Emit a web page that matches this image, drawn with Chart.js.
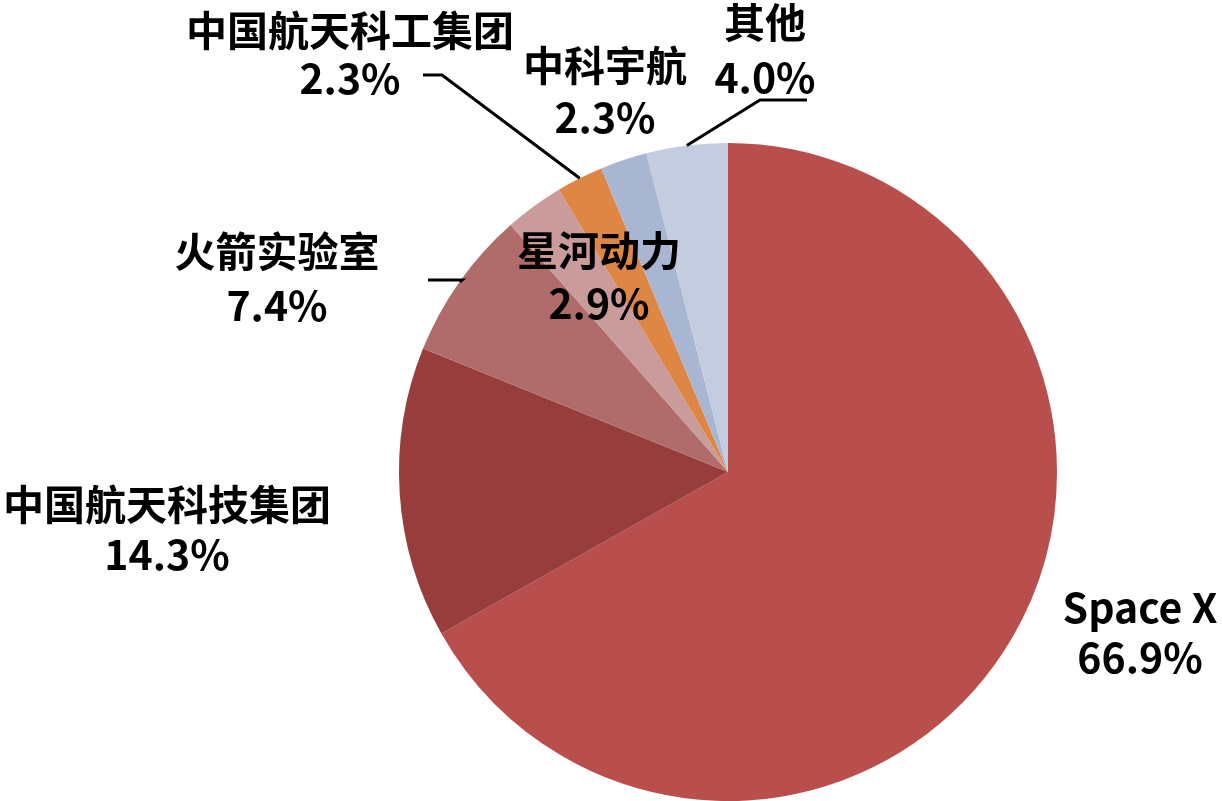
<!DOCTYPE html>
<html>
<head>
<meta charset="utf-8">
<script src="https://cdn.jsdelivr.net/npm/chart.js@4/dist/chart.umd.min.js"></script>
<style>
html,body{margin:0;padding:0;background:#fff;}
#wrap{width:1222px;height:801px;position:relative;}
</style>
</head>
<body>
<div id="wrap"><canvas id="c" width="1222" height="801"></canvas></div>
<script>
const categories = ['Space X','中国航天科技集团','火箭实验室','星河动力','中国航天科工集团','中科宇航','其他'];
const shares = [66.9, 14.3, 7.4, 2.9, 2.3, 2.3, 4.0];
const shareLabels = ['66.9%','14.3%','7.4%','2.9%','2.3%','2.3%','4.0%'];
const colors = ['#B84F4D','#973D3B','#AF6C6A','#C99B9A','#DE8744','#A8B6D2','#C3CDDF'];

// label placement relative to pie center (px); leader: elbow & end offsets relative to center
const labelLayout = [
  {dx: 412, dy: 160, gap: 50},
  {dx: -561, dy: 57, gap: 50},
  {dx: -451, dy: -194, gap: 54, leader: {elbow: [-266, -192], end: [-300, -192]}},
  {dx: -129, dy: -195, gap: 53},
  {dx: -378, dy: -418, gap: 48, leader: {elbow: [-286, -397], end: [-305, -397]}},
  {dx: -123, dy: -381, gap: 52},
  {dx: 37, dy: -422, gap: 55, leader: {elbow: [32, -372], end: [79, -372]}}
];
const fontSpec = 'bold 41px "Noto Sans CJK SC", "Noto Sans", sans-serif';

const labelPlugin = {
  id: 'pieLabels',
  afterDatasetsDraw(chart) {
    const ctx = chart.ctx;
    const meta = chart.getDatasetMeta(0);
    ctx.save();
    meta.data.forEach((arc, i) => {
      const p = arc.getProps(['x','y','startAngle','endAngle','outerRadius'], true);
      const cx = p.x, cy = p.y;
      const lay = labelLayout[i];
      if (lay.leader) {
        const mid = (p.startAngle + p.endAngle) / 2;
        const sx = cx + Math.cos(mid) * p.outerRadius;
        const sy = cy + Math.sin(mid) * p.outerRadius;
        ctx.beginPath();
        ctx.strokeStyle = '#000';
        ctx.lineWidth = 3;
        ctx.moveTo(sx, sy);
        ctx.lineTo(cx + lay.leader.elbow[0], cy + lay.leader.elbow[1]);
        ctx.lineTo(cx + lay.leader.end[0], cy + lay.leader.end[1]);
        ctx.stroke();
      }
      ctx.fillStyle = '#000';
      ctx.font = fontSpec;
      ctx.textAlign = 'center';
      ctx.textBaseline = 'middle';
      const lx = cx + lay.dx, ly = cy + lay.dy;
      ctx.fillText(categories[i], lx, ly - lay.gap / 2);
      ctx.fillText(shareLabels[i], lx, ly + lay.gap / 2);
    });
    ctx.restore();
  }
};

new Chart(document.getElementById('c'), {
  type: 'pie',
  data: {
    labels: categories,
    datasets: [{
      data: shares,
      backgroundColor: colors,
      borderWidth: 0,
      hoverOffset: 0
    }]
  },
  options: {
    responsive: false,
    animation: false,
    layout: {padding: {top: 143, bottom: 0, left: 399, right: 165}},
    plugins: {legend: {display: false}, tooltip: {enabled: false}},
    events: []
  },
  plugins: [labelPlugin]
});
</script>
</body>
</html>
